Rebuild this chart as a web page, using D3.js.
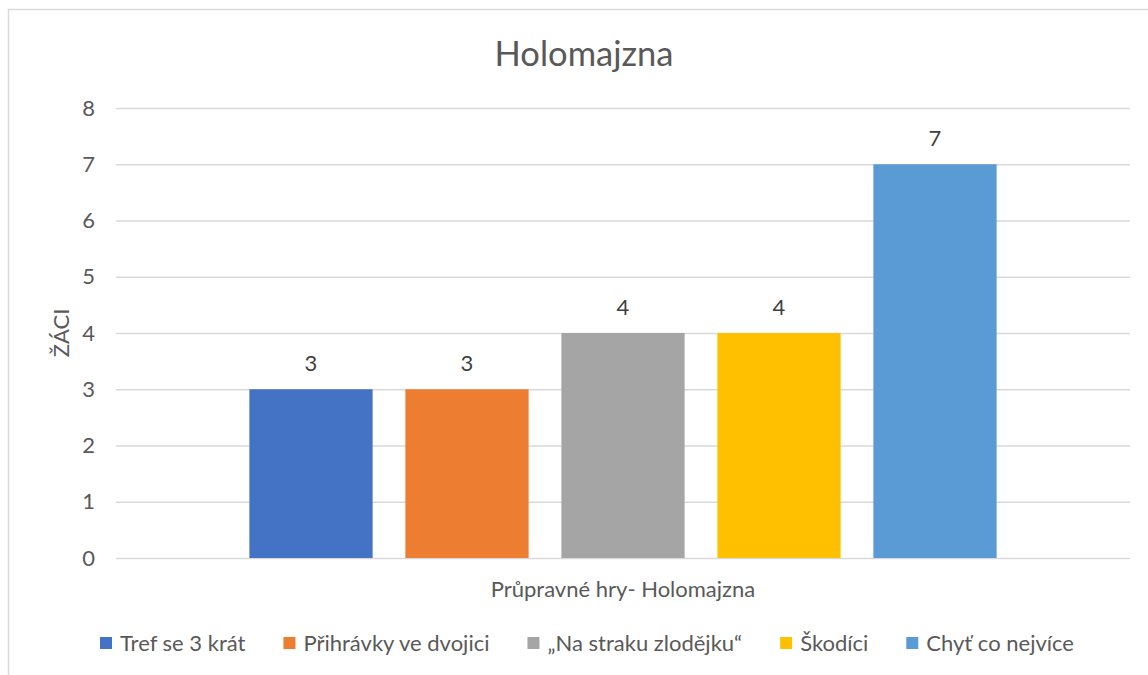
<!DOCTYPE html>
<html>
<head>
<meta charset="utf-8">
<script src="https://cdn.jsdelivr.net/npm/d3@7"></script>
<style>
  html, body { margin: 0; padding: 0; background: #fff; }
  svg { display: block; font-family: Lato, "Open Sans", sans-serif; }
</style>
</head>
<body>
<svg id="chart" width="1148" height="675"></svg>
<script>
const title = "Holomajzna";
const categoryLabel = "Průpravné hry- Holomajzna";
const yAxisTitle = "ŽÁCI";
const seriesNames = ["Tref se 3 krát", "Přihrávky ve dvojici", "„Na straku zlodějku“", "Škodíci", "Chyť co nejvíce"];
const seriesValues = [3, 3, 4, 4, 7];
const seriesColors = ["#4472C4", "#ED7D31", "#A5A5A5", "#FFC000", "#5B9BD5"];
const yTicks = [0, 1, 2, 3, 4, 5, 6, 7, 8];

const svg = d3.select("#chart");
const W = 1148, H = 675;
svg.append("rect").attr("width", W).attr("height", H).attr("fill", "#fff");
// chart border (chart area extends beyond the picture on right/bottom)
svg.append("rect").attr("x", 8.5).attr("y", 9.5).attr("width", 1160).attr("height", 700)
  .attr("fill", "none").attr("stroke", "#d9d9d9").attr("stroke-width", 1.5);

const plot = {left: 116, right: 1130, top: 108, bottom: 558};

const y = d3.scaleLinear().domain([0, 8]).range([plot.bottom, plot.top]);
const x = d3.scaleBand().domain(seriesNames).range([plot.left, plot.right])
  .paddingInner(0.21).paddingOuter(0.855);

// gridlines + tick labels via axis
const yAxis = d3.axisLeft(y).tickValues(yTicks).tickSize(-(plot.right - plot.left)).tickPadding(21).tickFormat(d3.format("d"));
const gy = svg.append("g").attr("transform", `translate(${plot.left},0)`).call(yAxis);
gy.select(".domain").remove();
gy.selectAll(".tick line").attr("stroke", "#d9d9d9").attr("stroke-width", 1.5);
gy.selectAll(".tick text").attr("fill", "#595959").attr("font-size", 22).attr("font-family", "Lato");

// bars
svg.append("g").selectAll("rect").data(seriesNames).join("rect")
  .attr("x", d => x(d))
  .attr("width", x.bandwidth())
  .attr("y", (d, i) => y(seriesValues[i]))
  .attr("height", (d, i) => y(0) - y(seriesValues[i]))
  .attr("fill", (d, i) => seriesColors[i]);

// data labels
svg.append("g").selectAll("text").data(seriesNames).join("text")
  .attr("x", d => x(d) + x.bandwidth() / 2)
  .attr("y", (d, i) => y(seriesValues[i]) - 18)
  .attr("text-anchor", "middle")
  .attr("font-size", 22).attr("fill", "#404040")
  .text((d, i) => seriesValues[i]);

// title
svg.append("text").attr("x", 584).attr("y", 66).attr("text-anchor", "middle")
  .attr("font-size", 34.5).attr("fill", "#595959").text(title);

// y axis title
svg.append("text").attr("transform", `translate(69,${(plot.top + plot.bottom) / 2}) rotate(-90)`)
  .attr("text-anchor", "middle").attr("font-size", 22).attr("fill", "#595959").text(yAxisTitle);

// category axis label
svg.append("text").attr("x", (plot.left + plot.right) / 2).attr("y", 597)
  .attr("text-anchor", "middle").attr("font-size", 22).attr("fill", "#595959").text(categoryLabel);

// legend
const lg = svg.append("g");
const items = lg.selectAll("g").data(seriesNames).join("g");
items.append("rect").attr("width", 12).attr("height", 12).attr("y", 637)
  .attr("fill", (d, i) => seriesColors[i]);
items.append("text").attr("x", 20).attr("y", 651).attr("font-size", 22).attr("fill", "#595959").text(d => d);
let widths = [];
items.each(function() { widths.push(20 + d3.select(this).select("text").node().getComputedTextLength()); });
const gap = 38;
const total = d3.sum(widths) + gap * (widths.length - 1);
let cx = 587 - total / 2;
items.each(function(d, i) { d3.select(this).attr("transform", `translate(${cx},0)`); cx += widths[i] + gap; });
</script>
</body>
</html>
